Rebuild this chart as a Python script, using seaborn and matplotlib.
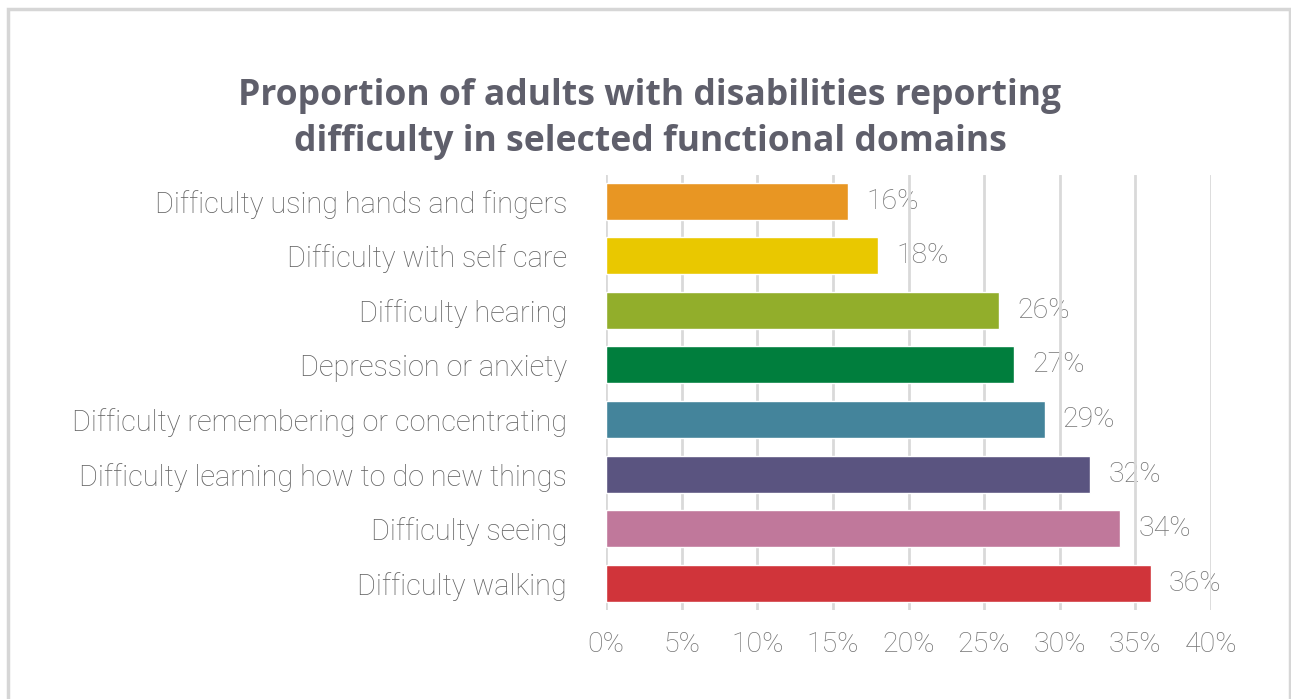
import matplotlib
matplotlib.use("Agg")
import matplotlib.pyplot as plt
from matplotlib.patches import Rectangle
import seaborn as sns
import pandas as pd

categories = [
    "Difficulty using hands and fingers",
    "Difficulty with self care",
    "Difficulty hearing",
    "Depression or anxiety",
    "Difficulty remembering or concentrating",
    "Difficulty learning how to do new things",
    "Difficulty seeing",
    "Difficulty walking",
]
values = [16, 18, 26, 27, 29, 32, 34, 36]
colors = ["#E89623", "#E9C800", "#92AE2B", "#007E3D",
          "#44849B", "#5A5480", "#C0789B", "#D0343A"]
x_ticks = [0, 5, 10, 15, 20, 25, 30, 35, 40]

df = pd.DataFrame({"category": categories, "value": values})

sns.set_theme(style="white")
plt.rcParams["font.family"] = ["Roboto", "DejaVu Sans"]

fig = plt.figure(figsize=(12.91, 6.99), dpi=100)
fig.patch.set_facecolor("white")

# outer frame
fig.patches.append(Rectangle((7.5 / 1291, -0.05), 1282 / 1291, 1.05 - 8.5 / 699,
                             transform=fig.transFigure, fill=False,
                             edgecolor="#D6D6D6", linewidth=2.5))

ax = fig.add_axes([606 / 1291, 1 - 610 / 699, 605 / 1291, 435 / 699])
sns.barplot(data=df, x="value", y="category", hue="category",
            palette=colors, legend=False, width=0.68, ax=ax, saturation=1)

ax.set_xlim(0, 40)
ax.set_ylim(7.49, -0.48)
ax.set_xticks(x_ticks)
ax.set_xticklabels([f"{t}%" for t in x_ticks], fontsize=20.5,
                   color="#747474", fontweight="light")
ax.tick_params(axis="x", length=0, pad=15)
ax.tick_params(axis="y", length=0, pad=28)
for lbl in ax.get_yticklabels():
    lbl.set_fontsize(20.8)
    lbl.set_color("#626262")
    lbl.set_fontweight("light")
ax.set_xlabel("")
ax.set_ylabel("")
ax.grid(axis="x", color="#D9D9D9", linewidth=2)
ax.set_axisbelow(True)
for s in ax.spines.values():
    s.set_visible(False)

for i, v in enumerate(values):
    ax.text(v + 1.2, i, f"{v}%", va="center", ha="left",
            fontsize=20.5, color="#747474", fontweight="light", zorder=0.4)

fig.text(650 / 1291, 1 - 119 / 699,
         "Proportion of adults with disabilities reporting\n"
         "difficulty in selected functional domains",
         ha="center", va="center", fontsize=25.6, fontweight="bold",
         color="#5F5F6B", linespacing=1.38,
         family=["Open Sans", "DejaVu Sans"])

fig.savefig("out.png", dpi=100, facecolor="white")
